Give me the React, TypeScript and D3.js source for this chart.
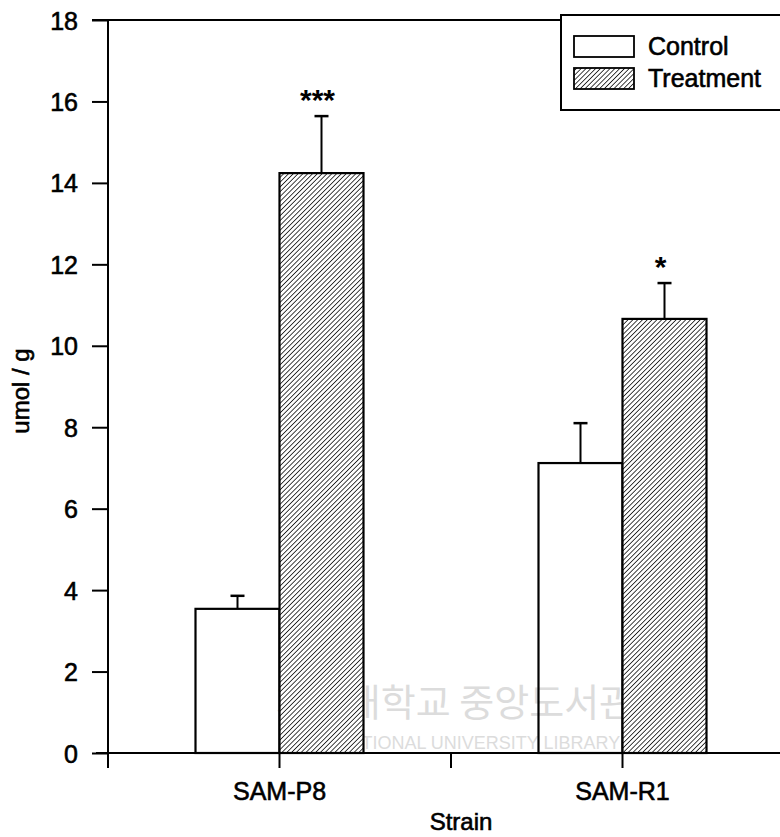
import React, { useEffect, useRef } from "react";
import * as d3 from "d3";

// values (umol / g)
const strains = ["SAM-P8", "SAM-R1"];
const groups = ["Control", "Treatment"];
const controlMean = [3.54, 7.12];
const controlSem = [0.32, 0.98];
const treatMean = [14.24, 10.66];
const treatSem = [1.4, 0.88];
const signif = ["***", "*"];
const yTicks = [0, 2, 4, 6, 8, 10, 12, 14, 16, 18];

const FONT = "'Liberation Sans', Arial, sans-serif";

export default function App() {
  const ref = useRef<SVGSVGElement>(null);

  useEffect(() => {
    const svg = d3.select(ref.current);
    svg.selectAll("*").remove();

    const left = 108, right = 794, top = 20, bottom = 753;
    const y = d3.scaleLinear().domain([0, 18]).range([bottom, top]);
    const x = d3.scaleBand().domain(strains).range([left, right]).padding(0);
    const barW = 84;
    const sub = d3.scaleBand().domain(groups).range([-barW, barW]).padding(0);

    // scanned text looks heavy, thicken it a bit
    const ink = (sel: any) => sel.attr("fill", "#000").attr("stroke", "#000").attr("stroke-width", 0.6);

    const defs = svg.append("defs");
    const pat = defs.append("pattern")
      .attr("id", "hatch")
      .attr("patternUnits", "userSpaceOnUse")
      .attr("width", 3.4)
      .attr("height", 3.4)
      .attr("patternTransform", "rotate(45)");
    pat.append("rect").attr("width", 3.4).attr("height", 3.4).attr("fill", "#fff");
    pat.append("line")
      .attr("x1", 0).attr("y1", 0).attr("x2", 0).attr("y2", 3.4)
      .attr("stroke", "#111").attr("stroke-width", 1.6);

    svg.append("rect").attr("width", 780).attr("height", 837).attr("fill", "#fff");

    // faint library watermark from the scan
    const wm = svg.append("g").attr("fill", "#dcdcdc");
    wm.append("text").attr("x", 455).attr("y", 716).attr("text-anchor", "middle")
      .style("font-family", "'Noto Sans CJK KR', sans-serif")
      .style("font-size", "38px").text("제주대학교 중앙도서관");
    wm.append("text").attr("x", 455).attr("y", 749).attr("text-anchor", "middle")
      .style("font-family", FONT).style("font-size", "18px")
      .text("JEJU NATIONAL UNIVERSITY LIBRARY");

    const means = [controlMean, treatMean];
    const sems = [controlSem, treatSem];

    // bars
    strains.forEach((s, i) => {
      const cx = x(s)! + x.bandwidth() / 2;
      groups.forEach((g, j) => {
        const v = means[j][i];
        const bx = cx + sub(g)!;
        const bcx = bx + sub.bandwidth() / 2;
        const capY = y(v + sems[j][i]);
        svg.append("line")
          .attr("x1", bcx).attr("x2", bcx)
          .attr("y1", y(v)).attr("y2", capY)
          .attr("stroke", "#000").attr("stroke-width", 2);
        svg.append("line")
          .attr("x1", bcx - 7).attr("x2", bcx + 7)
          .attr("y1", capY).attr("y2", capY)
          .attr("stroke", "#000").attr("stroke-width", 2.5);
        svg.append("rect")
          .attr("x", bx).attr("y", y(v))
          .attr("width", sub.bandwidth())
          .attr("height", y(0) - y(v))
          .attr("fill", j === 0 ? "none" : "url(#hatch)")
          .attr("stroke", "#000").attr("stroke-width", 2.2);
        if (j === 1) {
          svg.append("text")
            .attr("x", bcx - 4).attr("y", capY - 6)
            .attr("text-anchor", "middle")
            .style("font-family", FONT).style("font-size", "30px").style("font-weight", "bold")
            .text(signif[i]);
        }
      });
    });

    // y axis
    const yAxis = svg.append("g")
      .attr("transform", `translate(${left},0)`)
      .call(d3.axisLeft(y).tickValues(yTicks).tickSize(16).tickPadding(14).tickSizeOuter(0));
    yAxis.select(".domain").attr("stroke-width", 2).attr("d", `M0,${top}V${bottom + 15}`);
    yAxis.selectAll(".tick line").attr("stroke-width", 2);
    yAxis.selectAll(".tick text")
      .style("font-family", FONT).style("font-size", "25px").attr("dy", "0.36em")
      .call(ink);

    // x axis with ticks at band edges and centres
    const xTickPos: number[] = [];
    strains.forEach((s) => {
      xTickPos.push(x(s)!, x(s)! + x.bandwidth() / 2);
    });
    svg.append("line")
      .attr("x1", left - 12).attr("x2", 780)
      .attr("y1", bottom).attr("y2", bottom)
      .attr("stroke", "#000").attr("stroke-width", 2);
    svg.append("g").selectAll("line").data(xTickPos).enter().append("line")
      .attr("x1", (d) => d).attr("x2", (d) => d)
      .attr("y1", bottom).attr("y2", bottom + 15)
      .attr("stroke", "#000").attr("stroke-width", 2);
    svg.append("g").selectAll("text").data(strains).enter().append("text")
      .attr("x", (d) => x(d)! + x.bandwidth() / 2)
      .attr("y", 800)
      .attr("text-anchor", "middle")
      .style("font-family", FONT).style("font-size", "25px")
      .text((d) => d)
      .call(ink);

    // top frame line
    svg.append("line")
      .attr("x1", left - 16).attr("x2", 562)
      .attr("y1", top).attr("y2", top)
      .attr("stroke", "#000").attr("stroke-width", 2);

    // axis titles
    svg.append("text")
      .attr("x", 461).attr("y", 830)
      .attr("text-anchor", "middle")
      .style("font-family", FONT).style("font-size", "24px")
      .text("Strain")
      .call(ink);
    svg.append("text")
      .attr("transform", "translate(29,391) rotate(-90)")
      .attr("text-anchor", "middle")
      .style("font-family", FONT).style("font-size", "24px")
      .text("umol / g")
      .call(ink);

    // legend
    const lg = svg.append("g");
    lg.append("rect")
      .attr("x", 561).attr("y", 15).attr("width", 240).attr("height", 95)
      .attr("fill", "#fff").attr("stroke", "#000").attr("stroke-width", 2);
    groups.forEach((g, j) => {
      const yy = 36 + j * 32;
      lg.append("rect")
        .attr("x", 574).attr("y", yy).attr("width", 60).attr("height", 21)
        .attr("fill", j === 0 ? "#fff" : "url(#hatch)")
        .attr("stroke", "#000").attr("stroke-width", 1.8);
      lg.append("text")
        .attr("x", 648).attr("y", yy + 19)
        .style("font-family", FONT).style("font-size", "25px")
        .text(g)
        .call(ink);
    });
  }, []);

  return (
    <div style={{ position: "absolute", left: 0, top: 0 }}>
      <svg ref={ref} width={780} height={837}></svg>
    </div>
  );
}
